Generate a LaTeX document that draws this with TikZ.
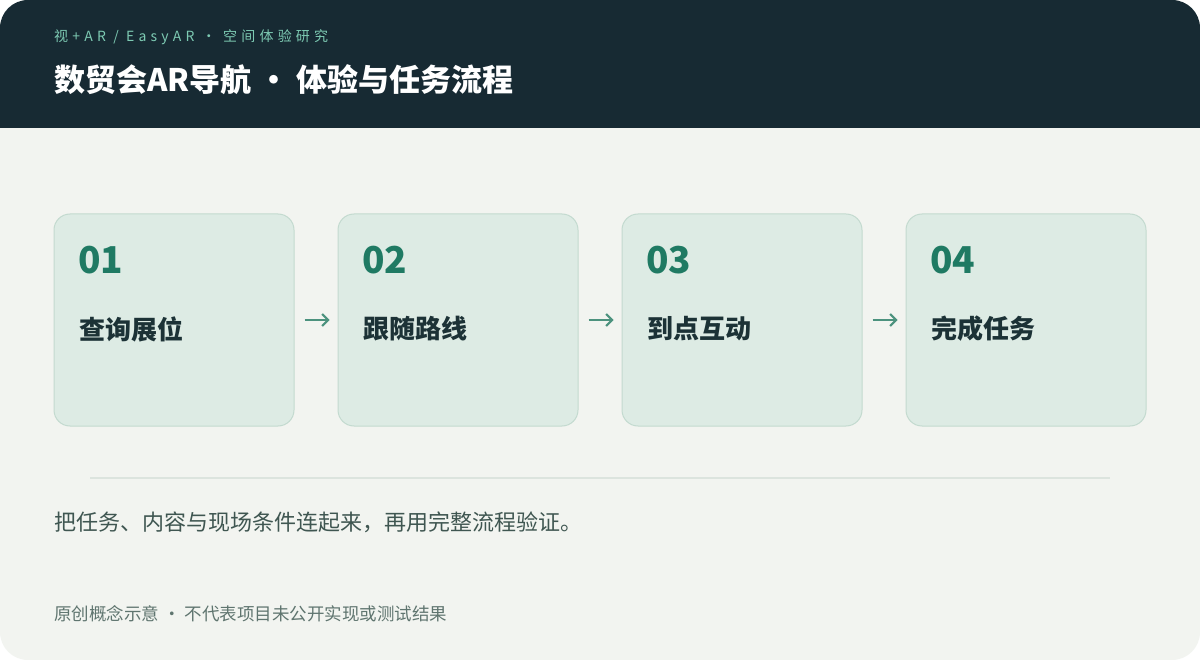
\documentclass[tikz,border=0pt]{standalone}
\usepackage{fontspec}
\setmainfont{Noto Sans CJK SC}
\newfontfamily\cjk{Noto Sans CJK SC}
\usetikzlibrary{arrows.meta}
\definecolor{headbg}{HTML}{172A33}
\definecolor{pagebg}{HTML}{F2F4F0}
\definecolor{cardbg}{HTML}{DDEBE4}
\definecolor{cardline}{HTML}{C3DACF}
\definecolor{subgreen}{HTML}{7DCAB3}
\definecolor{numgreen}{HTML}{1F7A63}
\definecolor{titledark}{HTML}{1C3236}
\definecolor{arrowgreen}{HTML}{4C927E}
\definecolor{bodytext}{HTML}{3F5651}
\definecolor{foottext}{HTML}{5F756F}
\definecolor{rulegray}{HTML}{DCE4DE}
\begin{document}
\begin{tikzpicture}[
    x=1pt, y=-1pt,
    card/.style={draw=cardline, line width=1pt, fill=cardbg, rounded corners=16pt, minimum width=240pt, minimum height=212pt, inner sep=0pt},
    numtext/.style={anchor=base west, inner sep=0pt, text=numgreen, font=\cjk\bfseries\fontsize{37}{37}\selectfont},
    steptext/.style={anchor=west, inner sep=0pt, text=titledark, font=\cjk\bfseries\fontsize{26}{26}\selectfont},
    flow/.style={draw=arrowgreen, line width=2pt, shorten <=10pt, shorten >=8pt, -{Straight Barb[length=6pt, width=12pt]}}
]
\useasboundingbox (0,0) rectangle (1200,660);
\fill[white] (0,0) rectangle (1200,660);
\begin{scope}
\clip[rounded corners=28pt] (0,0) rectangle (1200,660);
\fill[pagebg] (0,0) rectangle (1200,660);
\fill[headbg] (0,0) rectangle (1200,128);
\end{scope}

\node[anchor=base west, inner sep=0pt, text=subgreen, font=\cjk\fontsize{14}{14}\selectfont\addfontfeature{LetterSpace=30}] (sub) at (54,42) {视+AR\ /\ EasyAR\ ·\ 空间体验研究};
\node[anchor=base west, inner sep=0pt, text=white, font=\cjk\bfseries\fontsize{31}{31}\selectfont] (head) at (54,92) {数贸会AR导航 · 体验与任务流程};

\node[card](s1) at (174, 320) {};
\node[card](s2) at (458, 320) {};
\node[card](s3) at (742, 320) {};
\node[card](s4) at (1026, 320) {};

\node[numtext](n1) at (78, 274) {01};
\node[numtext](n2) at (362, 274) {02};
\node[numtext](n3) at (646, 274) {03};
\node[numtext](n4) at (930, 274) {04};

\node[steptext](t1) at (79, 329) {查询展位};
\node[steptext](t2) at (363, 329) {跟随路线};
\node[steptext](t3) at (647, 329) {到点互动};
\node[steptext](t4) at (931, 329) {完成任务};

\draw[flow] (s1) -- (s2);
\draw[flow] (s2) -- (s3);
\draw[flow] (s3) -- (s4);

\coordinate (r1) at (90, 478);
\coordinate (r2) at (1110, 478);
\draw[rulegray, line width=1.5pt] (r1) -- (r2);

\node[anchor=west, inner sep=0pt, text=bodytext, font=\cjk\fontsize{22}{22}\selectfont] (summary) at (54, 522) {把任务、内容与现场条件连起来，再用完整流程验证。};
\node[anchor=west, inner sep=0pt, text=foottext, font=\cjk\fontsize{17.5}{17.5}\selectfont] (note) at (54, 614) {原创概念示意 · 不代表项目未公开实现或测试结果};
\end{tikzpicture}
\end{document}
